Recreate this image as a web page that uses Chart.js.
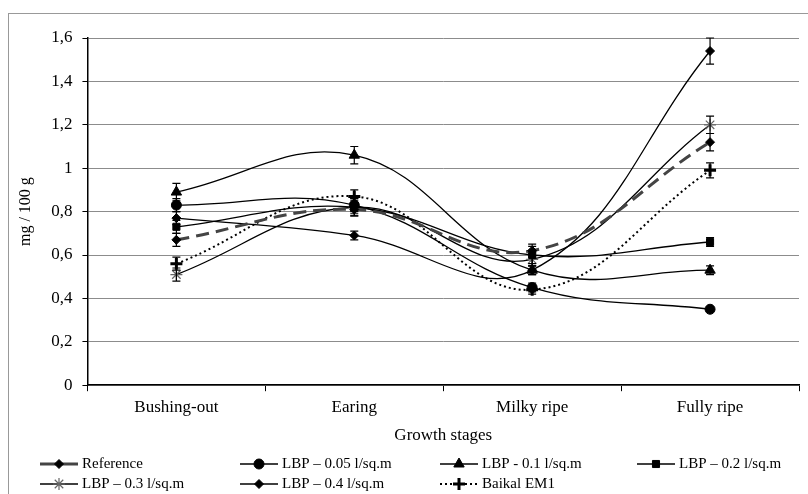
<!DOCTYPE html>
<html>
<head>
<meta charset="utf-8">
<script src="https://cdn.jsdelivr.net/npm/chart.js@4.4.1/dist/chart.umd.min.js"></script>
<style>
  html, body { margin: 0; padding: 0; background: #fff; }
  #wrap { width: 808px; height: 494px; position: relative; }
</style>
</head>
<body>
<div id="wrap"><canvas id="stageChart" width="808" height="494"></canvas></div>
<script>
const stages = ['Bushing-out', 'Earing', 'Milky ripe', 'Fully ripe'];
const yTicks = [0, 0.2, 0.4, 0.6, 0.8, 1, 1.2, 1.4, 1.6];

const seriesNames = ['Reference', 'LBP \u2013 0.05 l/sq.m', 'LBP - 0.1 l/sq.m', 'LBP \u2013 0.2 l/sq.m',
                     'LBP \u2013 0.3 l/sq.m', 'LBP \u2013 0.4 l/sq.m', 'Baikal EM1'];

const referenceVals = [0.67, 0.81, 0.62, 1.12];
const lbp005Vals    = [0.83, 0.83, 0.45, 0.35];
const lbp01Vals     = [0.89, 1.06, 0.53, 0.53];
const lbp02Vals     = [0.73, 0.82, 0.60, 0.66];
const lbp03Vals     = [0.51, 0.82, 0.58, 1.20];
const lbp04Vals     = [0.77, 0.69, 0.53, 1.54];
const baikalVals    = [0.56, 0.87, 0.44, 0.99];

const referenceErr = [0.03, 0.03, 0.03, 0.04];
const lbp005Err    = [0.03, 0.03, 0.02, 0.01];
const lbp01Err     = [0.04, 0.04, 0.02, 0.02];
const lbp02Err     = [0.03, 0.04, 0.04, 0.02];
const lbp03Err     = [0.03, 0.03, 0.03, 0.04];
const lbp04Err     = [0.03, 0.02, 0.02, 0.06];
const baikalErr    = [0.03, 0.03, 0.02, 0.035];

const serif = "'Liberation Serif', 'Times New Roman', serif";

function line(label, data, errors, marker, extra) {
    return Object.assign({
        label: label,
        data: data,
        errors: errors,
        borderColor: '#000',
        backgroundColor: '#000',
        pointBackgroundColor: '#000',
        pointBorderColor: '#000',
        borderWidth: 1.3,
        pointStyle: marker,
        pointRadius: 5,
        pointBorderWidth: 1,
        tension: 0.4,
        fill: false
    }, extra || {});
}

const datasets = [
    line(seriesNames[0], referenceVals, referenceErr, 'rectRot', { borderColor: '#444', borderWidth: 3, borderDash: [13, 7], pointRadius: 4.5 }),
    line(seriesNames[1], lbp005Vals, lbp005Err, 'circle'),
    line(seriesNames[2], lbp01Vals, lbp01Err, 'triangle', { pointRadius: 6 }),
    line(seriesNames[3], lbp02Vals, lbp02Err, 'rect'),
    line(seriesNames[4], lbp03Vals, lbp03Err, 'star', { pointBorderColor: '#666', pointRadius: 6, pointBorderWidth: 1.2 }),
    line(seriesNames[5], lbp04Vals, lbp04Err, 'rectRot', { pointRadius: 4.5 }),
    line(seriesNames[6], baikalVals, baikalErr, 'cross', { borderDash: [2, 3], borderWidth: 2, pointRadius: 6, pointBorderWidth: 3 })
];

// grey frame round the figure (only top and left edges are visible)
const framePlugin = {
    id: 'frame',
    beforeDraw(chart) {
        const c = chart.ctx;
        c.save();
        c.strokeStyle = '#999';
        c.lineWidth = 1;
        c.strokeRect(8.5, 13.5, chart.width + 20, chart.height + 20);
        c.restore();
    }
};

const errorBars = {
    id: 'errorBars',
    afterDatasetsDraw(chart) {
        const c = chart.ctx;
        const y = chart.scales.y;
        c.save();
        c.strokeStyle = '#000';
        c.lineWidth = 1.2;
        chart.data.datasets.forEach((ds, i) => {
            const meta = chart.getDatasetMeta(i);
            meta.data.forEach((pt, j) => {
                const v = ds.data[j], e = ds.errors[j];
                const top = y.getPixelForValue(v + e);
                const bot = y.getPixelForValue(v - e);
                c.beginPath();
                c.moveTo(pt.x, top); c.lineTo(pt.x, bot);
                c.moveTo(pt.x - 4, top); c.lineTo(pt.x + 4, top);
                c.moveTo(pt.x - 4, bot); c.lineTo(pt.x + 4, bot);
                c.stroke();
            });
        });
        c.restore();
    }
};

// legend with a line sample and marker, four per row
const lineLegend = {
    id: 'lineLegend',
    afterDraw(chart) {
        const c = chart.ctx;
        const cols = [40, 240, 440, 637];
        const rows = [464, 484];
        c.save();
        c.font = '15px ' + serif;
        c.textBaseline = 'middle';
        chart.data.datasets.forEach((ds, i) => {
            const x = cols[i % 4], yy = rows[Math.floor(i / 4)];
            c.save();
            c.strokeStyle = ds.borderColor;
            c.lineWidth = ds.borderWidth;
            c.setLineDash(ds.borderDash ? (i === 0 ? [16, 6] : ds.borderDash) : []);
            c.beginPath();
            c.moveTo(x, yy); c.lineTo(x + 38, yy);
            c.stroke();
            c.restore();
            c.save();
            c.fillStyle = '#000';
            c.strokeStyle = ds.pointBorderColor;
            c.lineWidth = ds.pointBorderWidth;
            Chart.helpers.drawPoint(c, {
                pointStyle: ds.pointStyle,
                radius: ds.pointRadius,
                borderWidth: ds.pointBorderWidth
            }, x + 19, yy);
            c.restore();
            c.fillStyle = '#000';
            c.fillText(ds.label, x + 42, yy);
        });
        c.restore();
    }
};

new Chart(document.getElementById('stageChart'), {
    type: 'line',
    data: { labels: stages, datasets: datasets },
    options: {
        responsive: false,
        animation: false,
        layout: { padding: { top: 38, left: 12, right: 0, bottom: 44 } },
        plugins: {
            legend: { display: false },
            tooltip: { enabled: false }
        },
        scales: {
            x: {
                offset: true,
                grid: { offset: true, drawOnChartArea: false, drawTicks: true, tickLength: 6, color: '#000' },
                border: { color: '#000', width: 1.5 },
                ticks: { color: '#000', font: { family: serif, size: 17 }, padding: 6 },
                title: { display: true, text: 'Growth stages', color: '#000', font: { family: serif, size: 17 }, padding: { top: 2 } }
            },
            y: {
                min: 0,
                max: 1.6,
                afterBuildTicks(axis) { axis.ticks = yTicks.map(v => ({ value: v })); },
                grid: { color: '#8c8c8c', lineWidth: 1, tickLength: 5, tickColor: '#000' },
                border: { color: '#000', width: 1.5 },
                ticks: {
                    color: '#000',
                    font: { family: serif, size: 17 },
                    padding: 10,
                    callback: v => String(v).replace('.', ',')
                },
                title: { display: true, text: 'mg / 100 g', color: '#000', font: { family: serif, size: 16 }, padding: { bottom: 6 } }
            }
        }
    },
    plugins: [framePlugin, errorBars, lineLegend]
});
</script>
</body>
</html>
